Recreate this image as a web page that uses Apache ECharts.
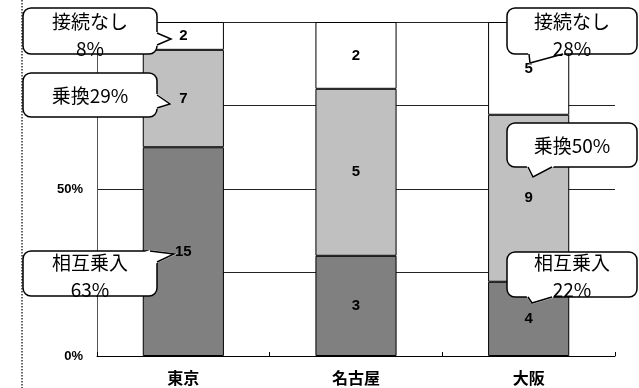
<!DOCTYPE html>
<html>
<head>
<meta charset="utf-8">
<script src="https://cdn.jsdelivr.net/npm/echarts@6/dist/echarts.min.js"></script>
<style>
  html, body { margin: 0; padding: 0; background: #fff; }
  #main { width: 639px; height: 388px; }
</style>
</head>
<body>
<div id="main"></div>
<script>
// data
const cities = ['東京', '名古屋', '大阪'];
const mutualCounts = [15, 3, 4];     // 相互乗入
const transferCounts = [7, 5, 9];    // 乗換
const noneCounts = [2, 2, 5];        // 接続なし
const seriesNames = ['相互乗入', '乗換', '接続なし'];
const yTickLabels = { 0: '0%', 50: '50%' };
const calloutTexts = [
  '接続なし\n8%', '乗換29%', '相互乗入\n63%',
  '接続なし\n28%', '乗換50%', '相互乗入\n22%'
];

const counts = [mutualCounts, transferCounts, noneCounts];
const colors = ['#808080', '#c0c0c0', '#ffffff'];
const totals = cities.map((c, i) => mutualCounts[i] + transferCounts[i] + noneCounts[i]);
const toPct = arr => arr.map((v, i) => v / totals[i] * 100);

// callout boxes (annotation layout): box, tail [base1, tip, base2], text centre
const calloutLayout = [
  { box: [23, 8, 134, 46], tail: [[157, 33], [171, 39], [157, 45]], tx: 90, ty: 35.5 },
  { box: [23, 73, 134, 44], tail: [[157, 95], [170, 104], [157, 108]], tx: 90, ty: 96 },
  { box: [23, 251, 134, 45], tail: [[150, 251], [174, 254], [157, 262]], tx: 90, ty: 276.5 },
  { box: [507, 8, 130, 46], tail: [[529, 54], [530, 63], [563, 54]], tx: 572, ty: 35.5 },
  { box: [507, 123, 130, 44], tail: [[528, 167], [533, 177], [552, 167]], tx: 572, ty: 146 },
  { box: [507, 252, 130, 45], tail: [[528, 297], [532, 303], [552, 297]], tx: 572, ty: 276 }
];

function callout(l, text) {
  var b = l.box;
  var centre = [b[0] + b[2] / 2, b[1] + b[3] / 2];
  return {
    type: 'group',
    z: 100,
    children: [
      {
        type: 'rect', z: 100,
        shape: { x: b[0], y: b[1], width: b[2], height: b[3], r: 8 },
        style: { fill: '#fff', stroke: '#000', lineWidth: 1.5 }
      },
      {
        type: 'polygon', z: 101,
        shape: { points: [l.tail[0], l.tail[1], l.tail[2], centre] },
        style: { fill: '#fff', stroke: '#fff', lineWidth: 2 }
      },
      {
        type: 'polyline', z: 102,
        shape: { points: l.tail },
        style: { fill: null, stroke: '#000', lineWidth: 1.5 }
      },
      {
        type: 'text', z: 103,
        style: {
          text: text, x: l.tx, y: l.ty,
          align: 'center', verticalAlign: 'middle',
          textAlign: 'center', textVerticalAlign: 'middle',
          font: '19px "Noto Sans CJK JP"', lineHeight: 27, fill: '#000'
        }
      }
    ]
  };
}

var chart = echarts.init(document.getElementById('main'));
var option = {
  animation: false,
  backgroundColor: '#fff',
  grid: { left: 97, right: 24, top: 22, bottom: 32 },
  xAxis: {
    type: 'category',
    data: cities,
    axisLine: { lineStyle: { color: '#000', width: 1 } },
    axisTick: { show: true, inside: true, length: 4, lineStyle: { color: '#000' } },
    axisLabel: {
      color: '#000', fontSize: 16, fontWeight: 'bold',
      fontFamily: 'Noto Sans CJK JP', margin: 14
    }
  },
  yAxis: {
    type: 'value',
    min: 0,
    max: 100,
    interval: 25,
    axisLine: { show: true, lineStyle: { color: '#555' } },
    axisTick: { show: false },
    splitLine: { lineStyle: { color: '#222', width: 1 } },
    axisLabel: {
      formatter: v => yTickLabels[v] || '',
      color: '#000', fontSize: 13, fontWeight: 'bold',
      fontFamily: 'Liberation Sans', margin: 14
    }
  },
  series: counts.map((arr, k) => ({
    name: seriesNames[k],
    type: 'bar',
    stack: 'total',
    barWidth: '47%',
    data: toPct(arr),
    itemStyle: { color: colors[k], borderColor: '#000', borderWidth: 1 },
    label: {
      show: true,
      position: 'inside',
      formatter: p => String(arr[p.dataIndex]),
      color: '#000',
      fontSize: 15,
      fontWeight: 'bold',
      fontFamily: 'Liberation Sans'
    }
  })),
  graphic: [
    {
      type: 'line', z: 100,
      shape: { x1: 22, y1: 0, x2: 22, y2: 388 },
      style: { stroke: '#333', lineWidth: 1.5, lineDash: [1.5, 1.5] }
    }
  ].concat(calloutLayout.map((l, i) => callout(l, calloutTexts[i])))
};
chart.setOption(option);
</script>
</body>
</html>
